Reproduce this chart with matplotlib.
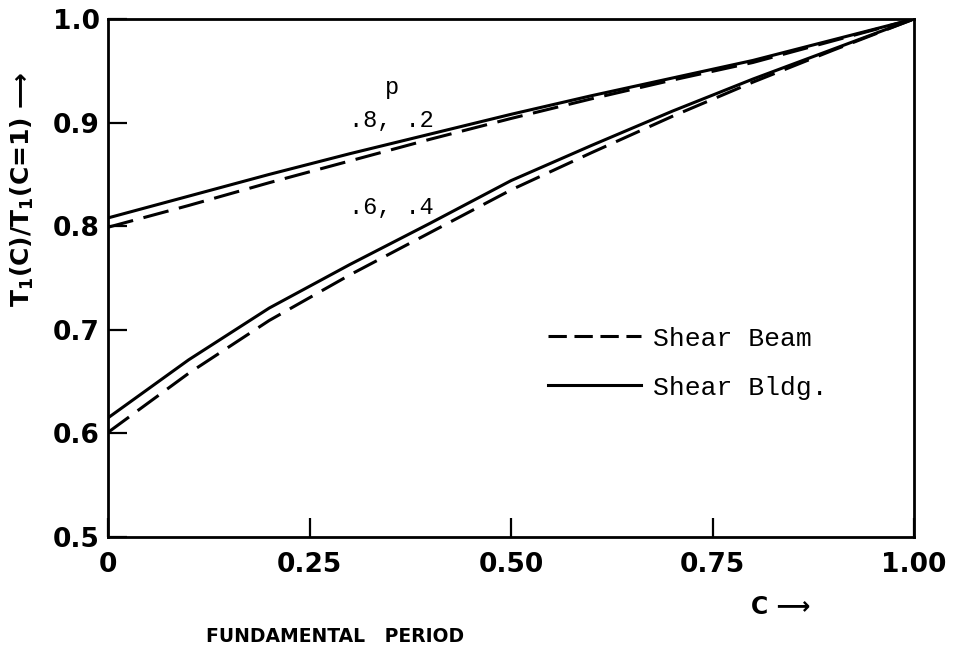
import numpy as np
import matplotlib.pyplot as plt
from matplotlib.lines import Line2D

# --- dati ---
c = [0.0, 0.1, 0.2, 0.3, 0.4, 0.5, 0.6, 0.7, 0.8, 0.9, 1.0]

# p = .8, .2
bldg_82 = [0.808, 0.829, 0.850, 0.870, 0.889, 0.908, 0.926, 0.943, 0.960, 0.980, 1.0]
beam_82 = [0.799, 0.820, 0.842, 0.863, 0.884, 0.904, 0.923, 0.941, 0.958, 0.979, 1.0]

# p = .6, .4
bldg_64 = [0.615, 0.671, 0.721, 0.763, 0.803, 0.844, 0.878, 0.911, 0.942, 0.971, 1.0]
beam_64 = [0.601, 0.658, 0.709, 0.753, 0.794, 0.835, 0.871, 0.906, 0.939, 0.970, 1.0]

xticks = [0, 0.25, 0.5, 0.75, 1.0]
xtick_labels = ['0', '0.25', '0.50', '0.75', '1.00']
yticks = [0.5, 0.6, 0.7, 0.8, 0.9, 1.0]
ytick_labels = ['0.5', '0.6', '0.7', '0.8', '0.9', '1.0']

# --- stile ---
lw = 2.2
dash = (8.5, 3.5)
mono = 'Liberation Mono'

fig = plt.figure(figsize=(9.62, 6.51), dpi=100)
ax = fig.add_axes([0.1123, 0.1751, 0.8378, 0.7957])

ax.plot(c, bldg_82, color='black', lw=lw)
ax.plot(c, beam_82, color='black', lw=lw, dashes=dash)
ax.plot(c, bldg_64, color='black', lw=lw)
ax.plot(c, beam_64, color='black', lw=lw, dashes=dash)

ax.set_xlim(0, 1)
ax.set_ylim(0.5, 1.0)
ax.set_xticks(xticks)
ax.set_xticklabels(xtick_labels)
ax.set_yticks(yticks)
ax.set_yticklabels(ytick_labels)

for s in ax.spines.values():
    s.set_linewidth(2.0)

ax.tick_params(axis='both', direction='in', length=14, width=1.6,
               labelsize=19)
ax.tick_params(axis='x', pad=11)
ax.tick_params(axis='y', pad=6)
for lab in ax.get_xticklabels() + ax.get_yticklabels():
    lab.set_fontweight('bold')

# etichette delle curve
ax.text(0.352, 0.934, 'p', family=mono, fontsize=17, ha='center', va='center')
ax.text(0.352, 0.902, '.8, .2', family=mono, fontsize=17, ha='center', va='center')
ax.text(0.352, 0.818, '.6, .4', family=mono, fontsize=17, ha='center', va='center')

# legenda
handles = [Line2D([], [], color='black', lw=lw, dashes=(6, 2.5)),
           Line2D([], [], color='black', lw=lw)]
leg = ax.legend(handles, ['Shear Beam', 'Shear Bldg.'], loc='upper left',
                bbox_to_anchor=(0.517, 0.452), frameon=False,
                prop={'family': mono, 'size': 19}, handlelength=3.5,
                handletextpad=0.45, labelspacing=0.95)

# titoli assi
fig.text(0.023, 0.71, 'T$_\\mathbf{1}$(C)/T$_\\mathbf{1}$(C=1) \u27f6', rotation=90,
         fontsize=18, fontweight='bold', ha='center', va='center')
fig.text(0.812, 0.067, 'C \u27f6', fontsize=17, fontweight='bold',
         ha='center', va='center')
fig.text(0.348, 0.023, 'FUNDAMENTAL   PERIOD', fontsize=13.5, fontweight='bold',
         ha='center', va='center')

plt.savefig('out.png', dpi=100)
